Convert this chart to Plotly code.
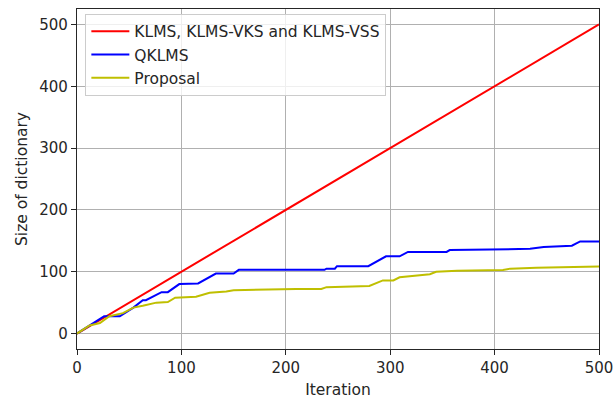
import plotly.graph_objects as go

# Data
klms_iter = [0, 500]
klms_size = [0, 500]

qklms_iter = [0, 26, 41, 54, 63, 66, 81, 87, 98, 116, 133, 150, 155, 204, 237, 239, 247, 249, 279, 296, 309, 317, 354, 357, 410, 434, 447, 471, 474, 482, 500]
qklms_size = [0, 28, 28, 42, 54, 54, 67, 67, 80, 81, 97, 97, 103, 103, 103, 105, 105, 109, 109, 125, 125, 132, 132, 135, 136, 137, 140, 141, 142, 149, 149]

prop_iter = [0, 12, 22, 31, 44, 54, 63, 76, 87, 94, 114, 127, 143, 150, 210, 234, 239, 280, 293, 303, 309, 319, 338, 344, 364, 408, 415, 440, 479, 500]
prop_size = [0, 13, 17, 28, 33, 42, 45, 50, 51, 58, 59.5, 66, 68, 70, 72, 72, 75, 77, 86, 86, 91, 93, 96, 100, 101.5, 102.7, 105, 106.5, 107.6, 108.6]

xticks = [0, 100, 200, 300, 400, 500]
yticks = [0, 100, 200, 300, 400, 500]

FONT = "DejaVu Sans"
TXT = "#262626"

fig = go.Figure()
fig.add_trace(go.Scatter(x=klms_iter, y=klms_size, mode="lines",
                         line=dict(color="#ff0000", width=2),
                         name="KLMS, KLMS-VKS and KLMS-VSS"))
fig.add_trace(go.Scatter(x=qklms_iter, y=qklms_size, mode="lines",
                         line=dict(color="#0000ff", width=2), name="QKLMS"))
fig.add_trace(go.Scatter(x=prop_iter, y=prop_size, mode="lines",
                         line=dict(color="#bfbf00", width=2), name="Proposal"))

axis_common = dict(showline=True, linecolor=TXT, linewidth=1.2, mirror=True,
                   ticks="outside", ticklen=5, tickwidth=1, tickcolor=TXT,
                   showgrid=True, gridcolor="#b0b0b0", gridwidth=1, zeroline=False,
                   automargin=False,
                   tickfont=dict(family=FONT, size=15, color=TXT))

fig.update_layout(
    template="none",
    width=615, height=399,
    margin=dict(l=77, r=16, t=9, b=50),
    paper_bgcolor="white", plot_bgcolor="white",
    font=dict(family=FONT, size=15, color=TXT),
    xaxis=dict(range=[0, 500], tickvals=xticks, ticktext=[str(v) for v in xticks],
               title=dict(text="Iteration", standoff=8, font=dict(family=FONT, size=15.5, color=TXT)),
               **axis_common),
    yaxis=dict(range=[-25, 525], tickvals=yticks, ticktext=[str(v) for v in yticks],
               title=dict(text="Size of dictionary", standoff=7, font=dict(family=FONT, size=15.5, color=TXT)),
               **axis_common),
    legend=dict(x=0.016, y=0.986, xanchor="left", yanchor="top",
                bgcolor="rgba(255,255,255,0.8)", bordercolor="#cccccc", borderwidth=1,
                font=dict(family=FONT, size=15.5, color=TXT),
                tracegroupgap=0, itemwidth=38),
    showlegend=True,
)

fig.write_html("out.html")
